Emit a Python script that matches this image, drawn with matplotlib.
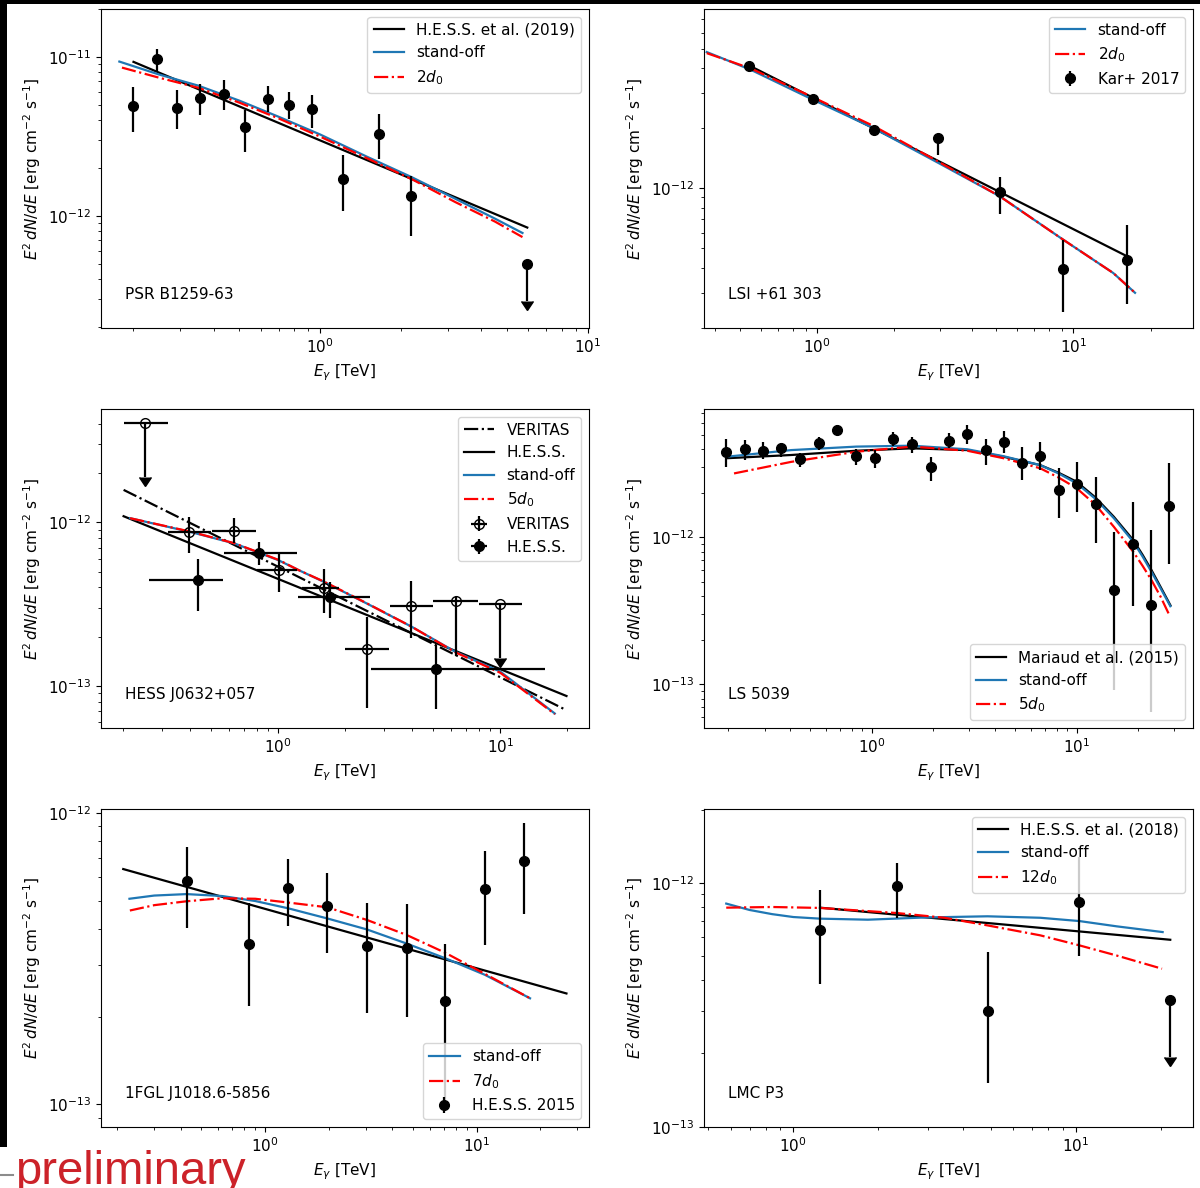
import matplotlib
matplotlib.use("Agg")
import matplotlib.pyplot as plt
import matplotlib.lines as mlines
from matplotlib.patches import Rectangle
import numpy as np

W, H = 1200, 1188
plt.rcParams['font.size'] = 11

# PSR B1259-63
psr_e = [0.201, 0.246, 0.293, 0.357, 0.438, 0.525, 0.639, 0.768, 0.933, 1.22, 1.66, 2.18]
psr_f = [4.93e-12, 9.71e-12, 4.79e-12, 5.49e-12, 5.85e-12, 3.64e-12, 5.41e-12, 4.96e-12, 4.70e-12, 1.71e-12, 3.25e-12, 1.34e-12]
psr_lo = [3.35e-12, 8.1e-12, 3.52e-12, 4.3e-12, 4.61e-12, 2.51e-12, 4.5e-12, 4.08e-12, 3.55e-12, 1.08e-12, 2.27e-12, 7.5e-13]
psr_hi = [6.47e-12, 1.12e-11, 6.16e-12, 6.79e-12, 7.13e-12, 4.65e-12, 6.59e-12, 6.04e-12, 5.76e-12, 2.42e-12, 4.37e-12, 1.77e-12]
psr_ul_e = [5.92]
psr_ul_f = [4.99e-13]
psr_ul_end = [2.9e-13]
psr_hess_e = [0.201, 5.94]
psr_hess_f = [9.3e-12, 8.44e-13]
psr_so_e = [0.178, 0.25, 0.35, 0.5, 0.7, 1.0, 1.5, 2.2, 3.2, 4.5, 5.7]
psr_so_f = [9.34e-12, 7.75e-12, 6.6e-12, 5.3e-12, 4.2e-12, 3.25e-12, 2.35e-12, 1.75e-12, 1.28e-12, 9.6e-13, 7.8e-13]
psr_2d_e = [0.182, 0.25, 0.35, 0.5, 0.7, 1.0, 1.5, 2.2, 3.2, 4.5, 5.7]
psr_2d_f = [8.56e-12, 7.4e-12, 6.4e-12, 5.15e-12, 4.1e-12, 3.15e-12, 2.3e-12, 1.7e-12, 1.22e-12, 9.2e-13, 7.35e-13]

# LSI +61 303
lsi_e = [0.543, 0.963, 1.66, 2.97, 5.16, 9.11, 16.2]
lsi_f = [4.11e-12, 2.8e-12, 1.97e-12, 1.79e-12, 9.63e-13, 3.95e-13, 4.37e-13]
lsi_lo = [3.95e-12, 2.7e-12, 1.9e-12, 1.47e-12, 7.45e-13, 2.4e-13, 2.65e-13]
lsi_hi = [4.25e-12, 2.9e-12, 2.04e-12, 1.83e-12, 1.14e-12, 5.5e-13, 6.56e-13]
lsi_hess_e = [0.55, 16.2]
lsi_hess_f = [4.08e-12, 4.57e-13]
lsi_so_e = [0.37, 0.55, 0.96, 1.66, 2.97, 5.16, 9.11, 14.3, 17.4]
lsi_so_f = [4.81e-12, 3.92e-12, 2.78e-12, 2.0e-12, 1.34e-12, 9.12e-13, 5.54e-13, 3.77e-13, 3.0e-13]
lsi_2d_e = [0.37, 0.55, 0.96, 1.66, 2.97, 5.16, 9.11, 14.3, 17.4]
lsi_2d_f = [4.75e-12, 3.98e-12, 2.86e-12, 2.05e-12, 1.36e-12, 9.12e-13, 5.54e-13, 3.77e-13, 3.0e-13]

# HESS J0632+057
ver_e = [0.398, 0.634, 1.008, 1.6, 2.5, 3.98, 6.29]
ver_f = [8.69e-13, 8.88e-13, 5.08e-13, 3.94e-13, 1.67e-13, 3.08e-13, 3.31e-13]
ver_lo = [6.46e-13, 7.44e-13, 3.76e-13, 2.77e-13, 7.3e-14, 1.97e-13, 1.51e-13]
ver_hi = [1.08e-12, 1.07e-12, 6.46e-13, 5.15e-13, 2.64e-13, 4.39e-13, 3.5e-13]
ver_elo = [0.32, 0.505, 0.798, 1.284, 2.0, 3.17, 5.0]
ver_ehi = [0.496, 0.791, 1.21, 1.87, 3.16, 4.96, 7.9]
ver_ul_e = [0.25, 10.0]
ver_ul_f = [4.04e-12, 3.15e-13]
ver_ul_end = [1.9e-12, 1.47e-13]
ver_ul_elo = [0.201, 7.98]
ver_ul_ehi = [0.318, 12.5]
hj_e = [0.436, 0.817, 1.71, 5.15]
hj_f = [4.44e-13, 6.46e-13, 3.47e-13, 1.26e-13]
hj_lo = [2.87e-13, 5.48e-13, 2.61e-13, 7.17e-14]
hj_hi = [6.0e-13, 7.6e-13, 4.33e-13, 1.77e-13]
hj_elo = [0.262, 0.569, 1.224, 2.62]
hj_ehi = [0.562, 1.21, 2.6, 15.97]
hj_ver_line_e = [0.201, 19.87]
hj_ver_line_f = [1.58e-12, 7.08e-14]
hj_hess_line_e = [0.201, 19.87]
hj_hess_line_f = [1.09e-12, 8.65e-14]
hj_so_e = [0.215, 0.398, 0.634, 1.0, 1.235, 1.6, 2.5, 3.98, 6.29, 10.0, 17.6]
hj_so_f = [1.06e-12, 8.76e-13, 7.43e-13, 5.87e-13, 5.1e-13, 4.33e-13, 3.19e-13, 2.3e-13, 1.61e-13, 1.22e-13, 6.76e-14]
hj_5d_e = hj_so_e
hj_5d_f = [1.06e-12, 8.8e-13, 7.45e-13, 5.9e-13, 5.1e-13, 4.35e-13, 3.2e-13, 2.3e-13, 1.6e-13, 1.2e-13, 6.7e-14]

# LS 5039
ls_e = [0.195, 0.24, 0.294, 0.362, 0.446, 0.552, 0.679, 0.842, 1.035, 1.278, 1.571, 1.94, 2.385,
        2.93, 3.6, 4.41, 5.42, 6.64, 8.17, 10.0, 12.4, 15.2, 18.9, 23.2, 28.4]
ls_f = [3.82e-12, 3.97e-12, 3.88e-12, 4.03e-12, 3.4e-12, 4.4e-12, 5.37e-12, 3.59e-12, 3.45e-12, 4.66e-12,
        4.32e-12, 2.99e-12, 4.54e-12, 5.02e-12, 3.92e-12, 4.47e-12, 3.22e-12, 3.57e-12, 2.1e-12, 2.3e-12,
        1.68e-12, 4.38e-13, 9.0e-13, 3.46e-13, 1.63e-12]
ls_lo = [3.02e-12, 3.36e-12, 3.4e-12, 3.53e-12, 2.99e-12, 3.92e-12, 4.97e-12, 3.1e-12, 2.94e-12, 4.18e-12,
         3.76e-12, 2.4e-12, 4.03e-12, 4.32e-12, 3.1e-12, 3.72e-12, 2.45e-12, 2.87e-12, 1.35e-12, 1.49e-12,
         9.2e-13, 9.1e-14, 3.41e-13, 6.5e-14, 6.6e-13]
ls_hi = [4.64e-12, 4.58e-12, 4.47e-12, 4.39e-12, 3.72e-12, 4.83e-12, 5.8e-12, 3.97e-12, 3.9e-12, 5.23e-12,
         4.83e-12, 3.5e-12, 5.14e-12, 5.8e-12, 4.64e-12, 5.31e-12, 4.09e-12, 4.47e-12, 2.95e-12, 3.26e-12,
         2.58e-12, 1.09e-12, 1.75e-12, 1.12e-12, 3.18e-12]
ls_curve_e = [0.195, 0.405, 0.842, 1.571, 2.93, 4.41, 6.64, 8.17, 10.0, 12.4, 15.2, 18.9, 21.0, 23.2, 25.7, 28.7]
ls_mar_f = [3.45e-12, 3.63e-12, 3.88e-12, 4.03e-12, 3.92e-12, 3.53e-12, 3.1e-12, 2.75e-12, 2.39e-12,
            1.86e-12, 1.38e-12, 9.58e-13, 7.6e-13, 5.99e-13, 4.6e-13, 3.45e-13]
ls_so_f = [3.53e-12, 3.92e-12, 4.14e-12, 4.2e-12, 3.97e-12, 3.56e-12, 3.1e-12, 2.72e-12, 2.33e-12,
           1.82e-12, 1.35e-12, 9.33e-13, 7.4e-13, 5.83e-13, 4.5e-13, 3.4e-13]
ls_5d_e = [0.213, 0.405, 0.842, 1.571, 2.93, 4.41, 6.64, 8.17, 10.0, 12.4, 15.2, 18.9, 21.0, 23.2, 25.7, 28.1]
ls_5d_f = [2.72e-12, 3.26e-12, 3.82e-12, 4.14e-12, 3.88e-12, 3.45e-12, 2.95e-12, 2.55e-12, 2.16e-12,
           1.66e-12, 1.18e-12, 7.98e-13, 6.4e-13, 5.12e-13, 3.95e-13, 3.04e-13]

# 1FGL J1018.6-5856
fgl_e = [0.426, 0.84, 1.29, 1.97, 3.03, 4.67, 7.11, 10.96, 16.8]
fgl_f = [5.85e-13, 3.55e-13, 5.53e-13, 4.77e-13, 3.49e-13, 3.43e-13, 2.26e-13, 5.46e-13, 6.85e-13]
fgl_lo = [4.04e-13, 2.17e-13, 4.09e-13, 3.31e-13, 2.06e-13, 1.99e-13, 9.6e-14, 3.51e-13, 4.5e-13]
fgl_hi = [7.64e-13, 4.89e-13, 6.92e-13, 6.23e-13, 4.89e-13, 4.86e-13, 3.56e-13, 7.39e-13, 9.2e-13]
fgl_hess_e = [0.214, 26.6]
fgl_hess_f = [6.41e-13, 2.4e-13]
fgl_so_e = [0.229, 0.3, 0.426, 0.628, 0.9, 1.29, 1.97, 3.03, 4.67, 7.11, 10.96, 17.9]
fgl_so_f = [5.07e-13, 5.2e-13, 5.26e-13, 5.18e-13, 4.98e-13, 4.7e-13, 4.34e-13, 3.98e-13, 3.56e-13,
            3.17e-13, 2.78e-13, 2.31e-13]
fgl_7d_e = [0.23, 0.3, 0.426, 0.628, 0.9, 1.29, 1.97, 3.03, 4.67, 7.11, 10.96, 17.9]
fgl_7d_f = [4.62e-13, 4.82e-13, 4.97e-13, 5.09e-13, 5.07e-13, 4.92e-13, 4.74e-13, 4.29e-13, 3.81e-13,
            3.31e-13, 2.8e-13, 2.31e-13]

# LMC P3
lmc_e = [1.243, 2.32, 4.87, 10.29]
lmc_f = [6.39e-13, 9.69e-13, 2.98e-13, 8.35e-13]
lmc_lo = [3.84e-13, 7.2e-13, 1.52e-13, 5.0e-13]
lmc_hi = [9.33e-13, 1.21e-12, 5.2e-13, 1.28e-12]
lmc_ul_e = [21.5]
lmc_ul_f = [3.3e-13]
lmc_ul_end = [1.94e-13]
lmc_hess_e = [1.243, 21.6]
lmc_hess_f = [7.92e-13, 5.85e-13]
lmc_so_e = [0.579, 0.7, 0.842, 1.0, 1.243, 1.837, 2.93, 4.87, 7.48, 10.29, 13.96, 20.3]
lmc_so_f = [8.23e-13, 7.75e-13, 7.45e-13, 7.25e-13, 7.14e-13, 7.07e-13, 7.22e-13, 7.3e-13, 7.2e-13,
            6.98e-13, 6.64e-13, 6.29e-13]
lmc_12d_e = [0.579, 0.842, 1.243, 2.32, 3.43, 4.87, 7.48, 10.29, 13.96, 20.2]
lmc_12d_f = [7.92e-13, 7.97e-13, 7.9e-13, 7.53e-13, 7.2e-13, 6.7e-13, 6.1e-13, 5.55e-13, 5.04e-13, 4.45e-13]

BLUE = '#1f77b4'
ylab = r'$E^2\,dN/dE$ [erg cm$^{-2}$ s$^{-1}$]'
xlab = r'$E_\gamma$ [TeV]'


def panel(fig, left, top, width, height):
    return fig.add_axes([left / W, 1 - (top + height) / H, width / W, height / H])


def points(ax, e, f, lo, hi, elo=None, ehi=None, **kw):
    e, f, lo, hi = map(np.asarray, (e, f, lo, hi))
    xerr = None
    if elo is not None:
        xerr = [e - np.asarray(elo), np.asarray(ehi) - e]
    return ax.errorbar(e, f, yerr=[f - lo, hi - f], xerr=xerr, fmt='o', color='k',
                       ms=7, elinewidth=1.6, **kw)


def upper_limits(ax, e, f, end, elo=None, ehi=None, **kw):
    e = np.asarray(e)
    xerr = None
    if elo is not None:
        xerr = [e - np.asarray(elo), np.asarray(ehi) - e]
    ax.errorbar(e, f, xerr=xerr, fmt='o', color='k', ms=7, elinewidth=1.6, **kw)
    ax.vlines(e, end, f, color='k', lw=1.6)
    ax.plot(e, end, ls='none', marker=mlines.CARETDOWNBASE, color='k', ms=9)


def finish(ax, xlim, ylim, name):
    ax.set_xscale('log')
    ax.set_yscale('log')
    ax.set_xlim(xlim)
    ax.set_ylim(ylim)
    ax.set_xlabel(xlab)
    ax.set_ylabel(ylab)
    ax.text(0.05, 0.09, name, transform=ax.transAxes)


fig = plt.figure(figsize=(W / 100, H / 100), dpi=100)

# top left
ax = panel(fig, 101, 9, 488, 319)
ax.plot(psr_hess_e, psr_hess_f, color='k', lw=1.6, label='H.E.S.S. et al. (2019)')
ax.plot(psr_so_e, psr_so_f, color=BLUE, lw=1.6, label='stand-off')
ax.plot(psr_2d_e, psr_2d_f, color='r', ls='-.', lw=1.6, label=r'$2d_0$')
points(ax, psr_e, psr_f, psr_lo, psr_hi)
upper_limits(ax, psr_ul_e, psr_ul_f, psr_ul_end)
finish(ax, (0.152, 10.1), (1.97e-13, 2.0e-11), 'PSR B1259-63')
ax.legend(loc='upper right')

# top right
ax = panel(fig, 704, 9, 489, 319)
ax.plot(lsi_hess_e, lsi_hess_f, color='k', lw=1.6)
ax.plot(lsi_so_e, lsi_so_f, color=BLUE, lw=1.6, label='stand-off')
ax.plot(lsi_2d_e, lsi_2d_f, color='r', ls='-.', lw=1.6, label=r'$2d_0$')
points(ax, lsi_e, lsi_f, lsi_lo, lsi_hi, label='Kar+ 2017')
finish(ax, (0.361, 29.3), (2.0e-13, 7.9e-12), 'LSI +61 303')
ax.legend(loc='upper right')

# middle left
ax = panel(fig, 101, 409, 488, 319)
ax.plot(hj_ver_line_e, hj_ver_line_f, color='k', ls='-.', lw=1.6, label='VERITAS')
ax.plot(hj_hess_line_e, hj_hess_line_f, color='k', lw=1.6, label='H.E.S.S.')
ax.plot(hj_so_e, hj_so_f, color=BLUE, lw=1.6, label='stand-off')
ax.plot(hj_5d_e, hj_5d_f, color='r', ls='-.', lw=1.6, label=r'$5d_0$')
points(ax, ver_e, ver_f, ver_lo, ver_hi, ver_elo, ver_ehi, mfc='none', label='VERITAS')
upper_limits(ax, ver_ul_e, ver_ul_f, ver_ul_end, ver_ul_elo, ver_ul_ehi, mfc='none')
points(ax, hj_e, hj_f, hj_lo, hj_hi, hj_elo, hj_ehi, label='H.E.S.S.')
finish(ax, (0.159, 25.1), (5.51e-14, 4.94e-12), 'HESS J0632+057')
ax.legend(loc='upper right')

# middle right
ax = panel(fig, 704, 409, 489, 319)
ax.plot(ls_curve_e, ls_mar_f, color='k', lw=1.6, label='Mariaud et al. (2015)')
ax.plot(ls_curve_e, ls_so_f, color=BLUE, lw=1.6, label='stand-off')
ax.plot(ls_5d_e, ls_5d_f, color='r', ls='-.', lw=1.6, label=r'$5d_0$')
points(ax, ls_e, ls_f, ls_lo, ls_hi)
finish(ax, (0.152, 37.0), (5.05e-14, 7.46e-12), 'LS 5039')
ax.legend(loc='lower right')

# bottom left
ax = panel(fig, 101, 809, 488, 318)
ax.plot(fgl_hess_e, fgl_hess_f, color='k', lw=1.6)
ax.plot(fgl_so_e, fgl_so_f, color=BLUE, lw=1.6, label='stand-off')
ax.plot(fgl_7d_e, fgl_7d_f, color='r', ls='-.', lw=1.6, label=r'$7d_0$')
points(ax, fgl_e, fgl_f, fgl_lo, fgl_hi, label='H.E.S.S. 2015')
finish(ax, (0.168, 34.0), (8.36e-14, 1.03e-12), '1FGL J1018.6-5856')
ax.legend(loc='lower right')

# bottom right
ax = panel(fig, 704, 809, 489, 318)
ax.plot(lmc_hess_e, lmc_hess_f, color='k', lw=1.6, label='H.E.S.S. et al. (2018)')
ax.plot(lmc_so_e, lmc_so_f, color=BLUE, lw=1.6, label='stand-off')
ax.plot(lmc_12d_e, lmc_12d_f, color='r', ls='-.', lw=1.6, label=r'$12d_0$')
points(ax, lmc_e, lmc_f, lmc_lo, lmc_hi)
upper_limits(ax, lmc_ul_e, lmc_ul_f, lmc_ul_end)
finish(ax, (0.483, 26.0), (0.999e-13, 2.01e-12), 'LMC P3')
ax.legend(loc='upper right')

# slide frame and watermark
fig.patches.append(Rectangle((0, 1 - 4 / H), 1, 4 / H, transform=fig.transFigure,
                             facecolor='k', edgecolor='none'))
fig.patches.append(Rectangle((0, 1 - 1147 / H), 7 / W, 1147 / H, transform=fig.transFigure,
                             facecolor='k', edgecolor='none'))
fig.add_artist(mlines.Line2D([0, 13 / W], [1 - 1175 / H] * 2, color='0.55', lw=1.5))
fig.text(15 / W, 1 - 1184 / H, 'preliminary', color='#cc2229', fontsize=34,
         family=['Liberation Sans', 'DejaVu Sans'], va='baseline')

fig.savefig('out.png', dpi=100)
